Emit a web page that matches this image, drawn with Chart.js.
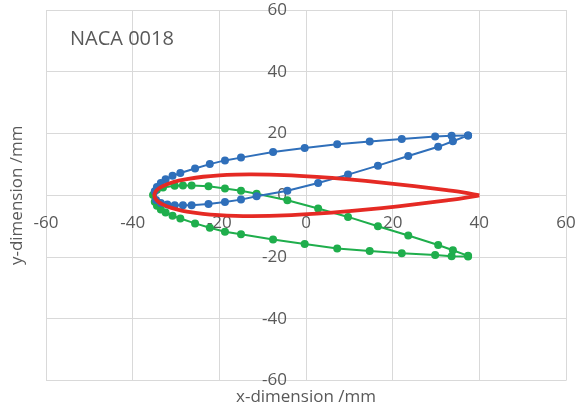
<!DOCTYPE html>
<html><head><meta charset="utf-8">
<script src="https://cdn.jsdelivr.net/npm/chart.js@4.4.0/dist/chart.umd.min.js"></script>
<style>html,body{margin:0;padding:0;background:#fff;}#wrap{width:582px;height:409px;}</style>
</head><body><div id="wrap"><canvas id="c" width="582" height="409"></canvas></div>
<script>
const chartLabel = 'NACA 0018';
const xTitle = 'x-dimension /mm';
const yTitle = 'y-dimension /mm';
const xTicks = [-60, -40, -20, 0, 20, 40, 60];
const yTicks = [-60, -40, -20, 0, 20, 40, 60];

const blueX = [37.4, 33.6, 29.8, 22.1, 14.7, 7.2, -0.3, -7.6, -15.0, -18.7, -22.2, -25.6, -29.0, -30.8, -32.4, -33.5, -34.4, -34.9, -34.6, -33.5, -32.0, -30.3, -28.4, -26.4, -22.5, -18.7, -15.0, -11.4, -4.3, 2.8, 9.7, 16.6, 23.6, 30.5, 33.9, 37.4];
const blueY = [19.4, 19.3, 19.0, 18.2, 17.4, 16.5, 15.3, 14.0, 12.2, 11.3, 10.1, 8.7, 7.2, 6.3, 5.2, 4.0, 2.7, 1.3, -1.5, -2.5, -3.0, -3.2, -3.2, -3.2, -2.8, -2.2, -1.4, -0.3, 1.5, 4.0, 6.7, 9.6, 12.7, 15.7, 17.5, 19.4];

const greenX = [37.4, 33.6, 29.8, 22.1, 14.7, 7.2, -0.3, -7.6, -15.0, -18.7, -22.2, -25.6, -29.0, -30.8, -32.4, -33.5, -34.4, -34.9, -35.3, -34.4, -33.0, -30.3, -28.4, -26.4, -22.5, -18.7, -15.0, -11.4, -4.3, 2.8, 9.7, 16.6, 23.6, 30.5, 33.9, 37.4];
const greenY = [-19.8, -19.7, -19.3, -18.8, -18.0, -17.2, -15.8, -14.3, -12.6, -11.8, -10.5, -9.1, -7.5, -6.6, -5.6, -4.6, -3.4, -2.1, 0.1, 1.8, 2.5, 3.1, 3.2, 3.2, 2.9, 2.2, 1.5, 0.5, -1.6, -4.3, -7.0, -10.0, -13.0, -16.1, -17.8, -19.6];

const redX = [40, 36.25, 32.5, 25, 17.5, 10, 2.5, -5, -12.5, -16.25, -20, -23.75, -27.5, -29.4, -31.25, -33.1, -34.05, -34.7, -35, -34.7, -34.05, -33.1, -31.25, -29.4, -27.5, -23.75, -20, -16.25, -12.5, -5, 2.5, 10, 17.5, 25, 32.5, 36.25, 40];
const redY = [0, 0.93, 1.65, 2.95, 4.12, 5.13, 5.95, 6.52, 6.75, 6.68, 6.45, 6.01, 5.27, 4.73, 4.0, 2.94, 2.13, 1.23, 0, -1.23, -2.13, -2.94, -4.0, -4.73, -5.27, -6.01, -6.45, -6.68, -6.75, -6.52, -5.95, -5.13, -4.12, -2.95, -1.65, -0.93, 0];

function pts(xs, ys) { return xs.map((x, i) => ({ x: x, y: ys[i] })); }

const FONT = '"Open Sans", "Liberation Sans", Arial, sans-serif';
const GRAY = '#595959';

const labelPlugin = {
  id: 'nacaLabel',
  afterDraw(chart) {
    const ctx = chart.ctx;
    ctx.save();
    ctx.font = '20px ' + FONT;
    ctx.fillStyle = GRAY;
    ctx.textBaseline = 'alphabetic';
    ctx.textAlign = 'left';
    ctx.fillText(chartLabel, 70, 45);
    ctx.restore();
  }
};

function tickSetter(arr) { return function (scale) { scale.ticks = arr.map(v => ({ value: v })); }; }
function noPad(scale) { scale.paddingLeft = 0; scale.paddingRight = 0; scale.paddingTop = 0; scale.paddingBottom = 0; }

new Chart(document.getElementById('c'), {
  type: 'scatter',
  data: {
    datasets: [
      { label: 'airfoil', data: pts(redX, redY), showLine: true, borderColor: '#e52a24', borderWidth: 3.8, pointRadius: 0, tension: 0.35, fill: false, order: 0 },
      { label: 'upper', data: pts(blueX, blueY), showLine: true, borderColor: '#2f6fba', backgroundColor: '#2f6fba', borderWidth: 2, pointRadius: 4, pointBorderWidth: 0, tension: 0, order: 1 },
      { label: 'lower', data: pts(greenX, greenY), showLine: true, borderColor: '#1fae4c', backgroundColor: '#1fae4c', borderWidth: 2, pointRadius: 4, pointBorderWidth: 0, tension: 0, order: 2 }
    ]
  },
  options: {
    responsive: false,
    animation: false,
    devicePixelRatio: 1,
    layout: { padding: { left: 0, right: 16, top: 10, bottom: 0 } },
    plugins: {
      legend: { display: false },
      tooltip: { enabled: false },
      title: { display: true, text: xTitle, position: 'bottom', fullSize: false, color: GRAY, font: { size: 17, family: FONT, weight: 'normal' }, padding: { top: 6, bottom: 2 } },
      subtitle: { display: true, text: yTitle, position: 'left', fullSize: false, color: GRAY, font: { size: 17, family: FONT, weight: 'normal' }, padding: { top: 6.8, bottom: 18.8 } }
    },
    scales: {
      x: {
        type: 'linear', position: { y: 0 }, min: -60, max: 60,
        afterBuildTicks: tickSetter(xTicks),
        afterFit: noPad,
        grid: { color: '#d9d9d9', lineWidth: 1, drawTicks: false },
        border: { display: false },
        ticks: { color: GRAY, font: { size: 17, family: FONT }, padding: 18, maxRotation: 0, autoSkip: false }
      },
      y: {
        type: 'linear', position: { x: -4.4 }, min: -60, max: 60,
        afterBuildTicks: tickSetter(yTicks),
        afterFit: noPad,
        grid: { color: '#d9d9d9', lineWidth: 1, drawTicks: false },
        border: { display: false },
        ticks: { color: GRAY, font: { size: 17, family: FONT }, padding: 0, autoSkip: false }
      }
    }
  },
  plugins: [labelPlugin]
});
</script></body></html>
